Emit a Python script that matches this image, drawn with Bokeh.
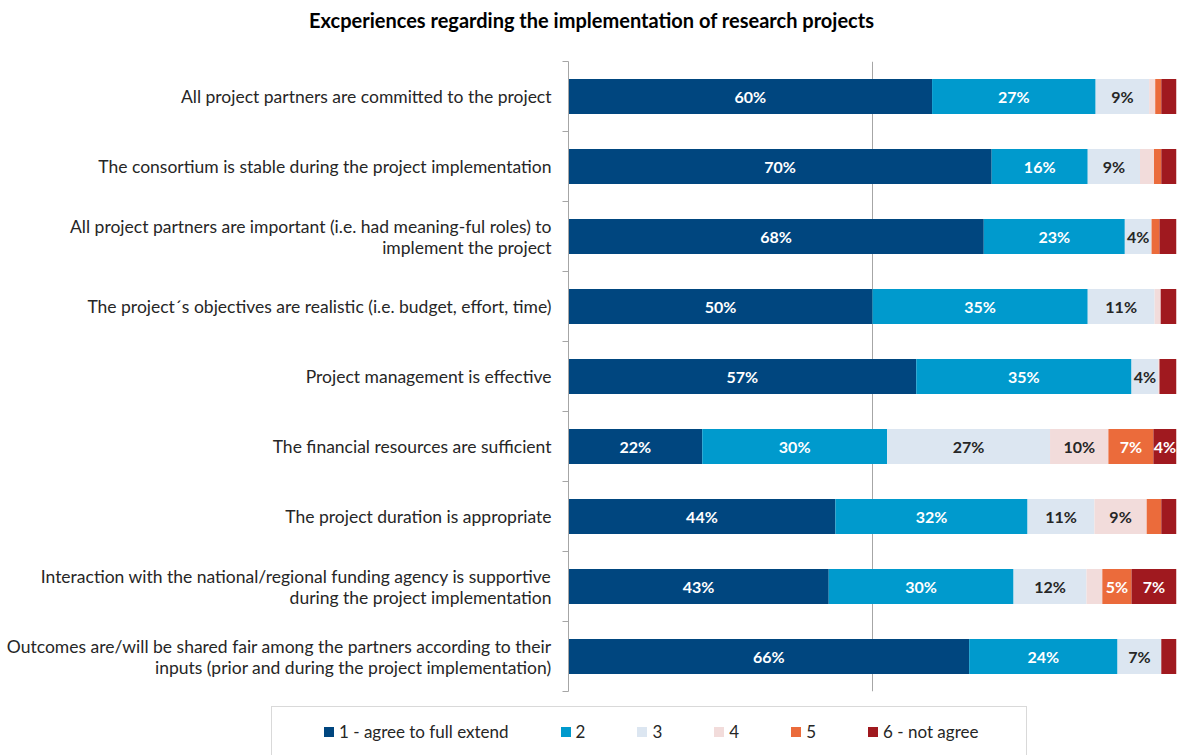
from bokeh.plotting import figure
from bokeh.layouts import column
from bokeh.models import Range1d, LinearAxis, FixedTicker, Grid, ColumnDataSource, Div
from bokeh.core.properties import value
from bokeh.embed import file_html
from bokeh.resources import INLINE

title = "Excperiences regarding the implementation of research projects"

categories = [
    "All project partners are committed to the project",
    "The consortium is stable during the project implementation",
    "All project partners are important (i.e. had meaning-ful roles) to\nimplement the project",
    "The project\u00b4s objectives are realistic (i.e. budget, effort, time)",
    "Project management is effective",
    "The financial resources are sufficient",
    "The project duration is appropriate",
    "Interaction with the national/regional funding agency is supportive\nduring the project implementation",
    "Outcomes are/will be shared fair among the partners according to their\ninputs (prior and during the project implementation)",
]

series_names = ["1 - agree to full extend", "2", "3", "4", "5", "6 - not agree"]

s1 = [59.8, 69.6, 68.3, 50.0, 57.2, 22.0, 43.9, 42.8, 65.9]
s2 = [26.9, 15.8, 23.2, 35.4, 35.4, 30.4, 31.6, 30.4, 24.4]
s3 = [8.8, 8.6, 4.4, 11.0, 4.4, 26.8, 11.0, 12.0, 7.2]
s4 = [1.0, 2.3, 0.0, 1.0, 0.2, 9.6, 8.6, 2.6, 0.0]
s5 = [1.0, 1.2, 1.3, 0.0, 0.0, 7.4, 2.4, 4.8, 0.0]
s6 = [2.5, 2.5, 2.8, 2.6, 2.8, 3.8, 2.5, 7.4, 2.5]

series_values = [s1, s2, s3, s4, s5, s6]
colors = ["#00467F", "#009ACD", "#DCE6F1", "#F2DCDB", "#EB6B3B", "#A0191F"]
label_colors = ["#FFFFFF", "#FFFFFF", "#262626", "#262626", "#FFFFFF", "#FFFFFF"]

FONT = "Lato"
W = 1178
H_TITLE, H_MAIN, H_LEG = 40, 660, 55

n = len(categories)
# each category occupies 2 units on the y axis; top category first
centers = [2 * (n - 1 - i) + 1 for i in range(n)]
bounds = list(range(0, 2 * n + 1, 2))

# ---- title ----
title_div = Div(
    text=(f'<div style="width:1183px;height:{H_TITLE}px;line-height:{H_TITLE}px;'
          f'text-align:center;font-family:{FONT};font-weight:bold;font-size:20px;'
          f'color:#000000;white-space:nowrap;">{title}</div>'),
    width=W, height=H_TITLE, margin=0)

# ---- main chart ----
p = figure(width=W, height=H_MAIN, output_backend="svg", toolbar_location=None,
           y_range=Range1d(0, 2 * n), x_range=Range1d(0, 100),
           x_axis_location=None, y_axis_location=None,
           min_border_left=568, min_border_right=2, min_border_top=21, min_border_bottom=9)
p.outline_line_color = None
p.background_fill_color = "white"
p.border_fill_color = "white"
for g in p.grid:
    g.visible = False

grid = Grid(dimension=0, ticker=FixedTicker(ticks=[50, 100]),
            grid_line_color="#A6A6A6", grid_line_width=1)
p.add_layout(grid)

# category axis: labels at band centres, small ticks at band boundaries
cat_axis = LinearAxis(ticker=FixedTicker(ticks=centers, minor_ticks=bounds),
                      major_label_overrides={c: t for c, t in zip(centers, categories)},
                      axis_line_color="#A6A6A6", major_tick_line_color=None,
                      major_tick_out=0, major_tick_in=0,
                      minor_tick_line_color="#A6A6A6", minor_tick_out=6, minor_tick_in=0,
                      major_label_text_font=FONT, major_label_text_font_size="17.5px",
                      major_label_text_line_height=1.0,
                      major_label_text_color="#262626", major_label_standoff=11)
p.add_layout(cat_axis, "left")

# stacked bars
lbl_x, lbl_y, lbl_t, lbl_c = [], [], [], []
cum = [0.0] * n
for k, vals in enumerate(series_values):
    left = list(cum)
    right = [c + v for c, v in zip(cum, vals)]
    src = ColumnDataSource(dict(y=centers, left=left, right=right))
    p.hbar(y="y", left="left", right="right", height=1.0, source=src,
           fill_color=colors[k], line_color=None)
    for i, v in enumerate(vals):
        if v >= 3.5:
            lbl_x.append(left[i] + v / 2)
            lbl_y.append(centers[i])
            lbl_t.append(f"{int(v + 0.5)}%")
            lbl_c.append(label_colors[k])
    cum = right

lsrc = ColumnDataSource(dict(x=lbl_x, y=lbl_y, t=lbl_t, c=lbl_c))
p.text(x="x", y="y", text="t", text_color="c", source=lsrc,
       text_font=value(FONT), text_font_style="bold", text_font_size="16px",
       text_align="center", text_baseline="middle")

# ---- legend strip ----
item_html = "".join(
    f'<div style="display:flex;align-items:center;">'
    f'<span style="display:inline-block;width:10px;height:10px;background:{c};'
    f'margin-right:5px;"></span><span>{nm}</span></div>'
    for nm, c in zip(series_names, colors))
legend_div = Div(
    text=(f'<div style="position:relative;width:{W}px;height:{H_LEG}px;overflow:hidden;'
          f'font-family:{FONT};font-size:17px;color:#262626;">'
          f'<div style="position:absolute;left:271px;top:6px;width:756px;height:60px;'
          f'border:1px solid #D9D9D9;box-sizing:border-box;"></div>'
          f'<div style="position:absolute;left:324px;top:20px;height:24px;display:flex;'
          f'align-items:center;gap:52px;white-space:nowrap;">{item_html}</div>'
          f'</div>'),
    width=W, height=H_LEG, margin=0)

layout = column(title_div, p, legend_div, spacing=0)
open("out.html", "w").write(file_html(layout, INLINE))
